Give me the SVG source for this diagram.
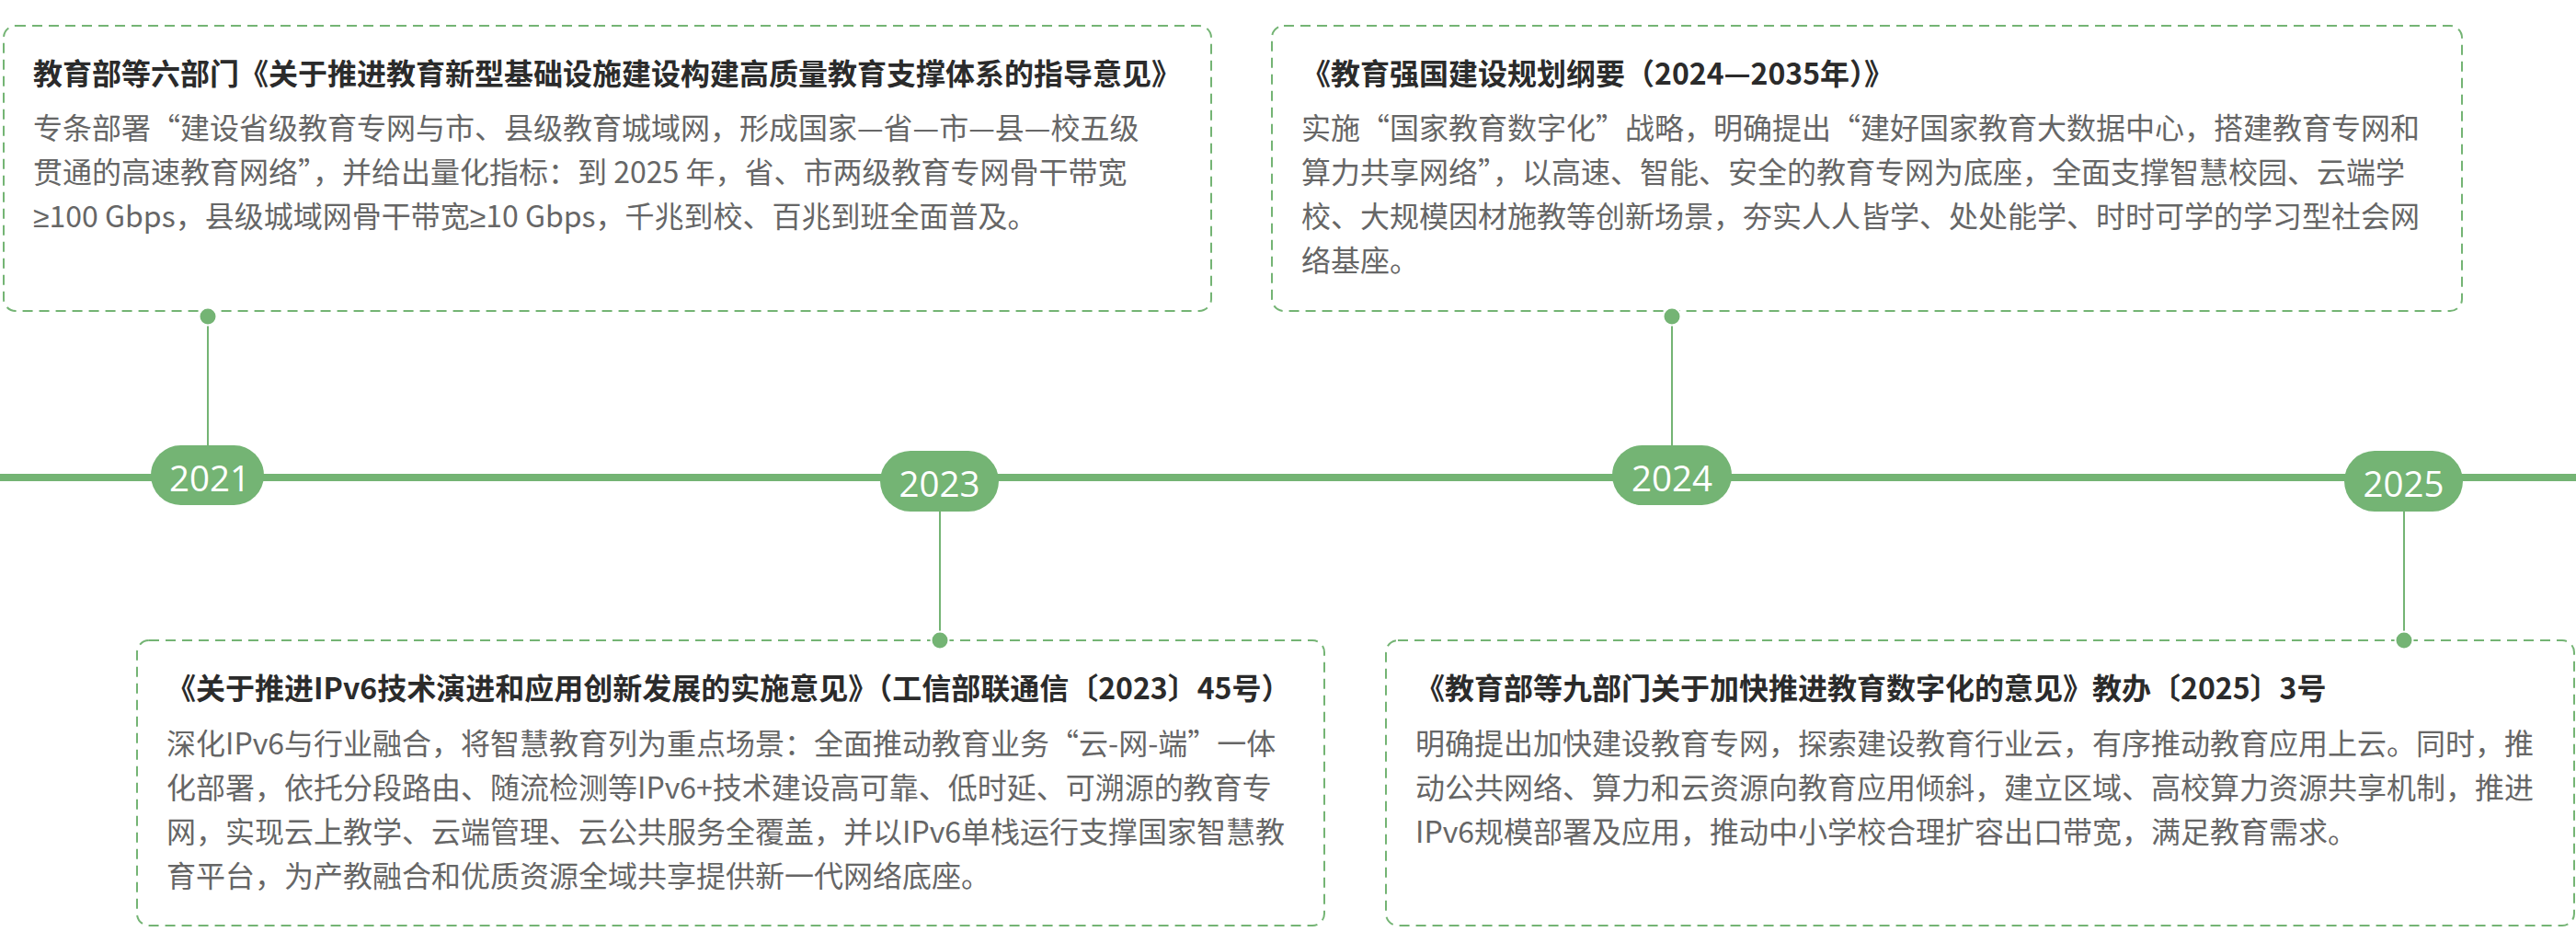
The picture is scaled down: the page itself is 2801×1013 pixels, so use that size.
<svg xmlns="http://www.w3.org/2000/svg" width="2801" height="1013" viewBox="0 0 2801 1013">
<style>
.box{fill:#fff;stroke:#74b474;stroke-width:2;stroke-dasharray:11 7}
.pill{fill:#74b474}
.year{font-family:"Open Sans","Noto Sans",sans-serif;font-size:38.5px;fill:#fff;text-anchor:middle}
.title{font-family:"Noto Sans CJK SC","Noto Sans",sans-serif;font-size:32px;font-weight:700;fill:#2b2b2b}
.body{font-family:"Noto Sans CJK SC","Noto Sans",sans-serif;font-size:32px;fill:#666}
.lat{font-family:"Liberation Sans","DejaVu Sans",sans-serif}
.conn{stroke:#74b474;stroke-width:2;fill:none}
.dot{fill:#74b474;stroke:#fff;stroke-width:2}
</style>
<rect width="2801" height="1013" fill="#fff"/>
<g id="timeline">
<line x1="0" y1="519" x2="2801" y2="519" stroke="#74b474" stroke-width="8"/>
</g>
<g id="connectors">
<line class="conn" x1="226" y1="344" x2="226" y2="486"/>
<line class="conn" x1="1022" y1="554" x2="1022" y2="696"/>
<line class="conn" x1="1818" y1="344" x2="1818" y2="486"/>
<line class="conn" x1="2614" y1="554" x2="2614" y2="696"/>
</g>
<g id="y2021">
<rect class="pill" x="164" y="484" width="123" height="65" rx="32.5"/>
<text class="year" x="228" y="533.5">2021</text>
</g>
<g id="y2023">
<rect class="pill" x="957" y="490" width="129" height="66" rx="33"/>
<text class="year" x="1021.5" y="540">2023</text>
</g>
<g id="y2024">
<rect class="pill" x="1753" y="484" width="130" height="65" rx="32.5"/>
<text class="year" x="1818" y="533.5">2024</text>
</g>
<g id="y2025">
<rect class="pill" x="2549" y="490" width="129" height="66" rx="33"/>
<text class="year" x="2613.5" y="540">2025</text>
</g>
<g id="box2021">
<rect class="box" x="4" y="28" width="1313" height="310" rx="13"/>
<text class="title" x="36" y="92">教育部等六部门《关于推进教育新型基础设施建设构建高质量教育支撑体系的指导意见》</text>
<text class="body" x="36" y="151">专条部署“建设省级教育专网与市、县级教育城域网，形成国家—省—市—县—校五级</text>
<text class="body" x="36" y="199">贯通的高速教育网络”，并给出量化指标：到 2025 年，省、市两级教育专网骨干带宽</text>
<text class="body" x="36" y="247"><tspan class="lat">≥</tspan>100 Gbps，县级城域网骨干带宽<tspan class="lat">≥</tspan>10 Gbps，千兆到校、百兆到班全面普及。</text>
<circle class="dot" cx="226" cy="344" r="9.5"/>
</g>
<g id="box2024">
<rect class="box" x="1383" y="28" width="1294" height="310" rx="13"/>
<text class="title" x="1415" y="92">《教育强国建设规划纲要（2024—2035年）》</text>
<text class="body" x="1415" y="151">实施“国家教育数字化”战略，明确提出“建好国家教育大数据中心，搭建教育专网和</text>
<text class="body" x="1415" y="199">算力共享网络”，以高速、智能、安全的教育专网为底座，全面支撑智慧校园、云端学</text>
<text class="body" x="1415" y="247">校、大规模因材施教等创新场景，夯实人人皆学、处处能学、时时可学的学习型社会网</text>
<text class="body" x="1415" y="295">络基座。</text>
<circle class="dot" cx="1818" cy="344" r="9.5"/>
</g>
<g id="box2023">
<rect class="box" x="149" y="696" width="1291" height="310" rx="13"/>
<text class="title" x="181" y="760">《关于推进IPv6技术演进和应用创新发展的实施意见》（工信部联通信〔2023〕45号）</text>
<text class="body" x="181" y="820">深化IPv6与行业融合，将智慧教育列为重点场景：全面推动教育业务“云-网-端”一体</text>
<text class="body" x="181" y="868">化部署，依托分段路由、随流检测等IPv6+技术建设高可靠、低时延、可溯源的教育专</text>
<text class="body" x="181" y="916">网，实现云上教学、云端管理、云公共服务全覆盖，并以IPv6单栈运行支撑国家智慧教</text>
<text class="body" x="181" y="964">育平台，为产教融合和优质资源全域共享提供新一代网络底座。</text>
<circle class="dot" cx="1022" cy="696" r="9.5"/>
</g>
<g id="box2025">
<rect class="box" x="1507" y="696" width="1292" height="310" rx="13"/>
<text class="title" x="1539" y="760">《教育部等九部门关于加快推进教育数字化的意见》教办〔2025〕3号</text>
<text class="body" x="1539" y="820">明确提出加快建设教育专网，探索建设教育行业云，有序推动教育应用上云。同时，推</text>
<text class="body" x="1539" y="868">动公共网络、算力和云资源向教育应用倾斜，建立区域、高校算力资源共享机制，推进</text>
<text class="body" x="1539" y="916">IPv6规模部署及应用，推动中小学校合理扩容出口带宽，满足教育需求。</text>
<circle class="dot" cx="2614" cy="696" r="9.5"/>
</g>
</svg>
